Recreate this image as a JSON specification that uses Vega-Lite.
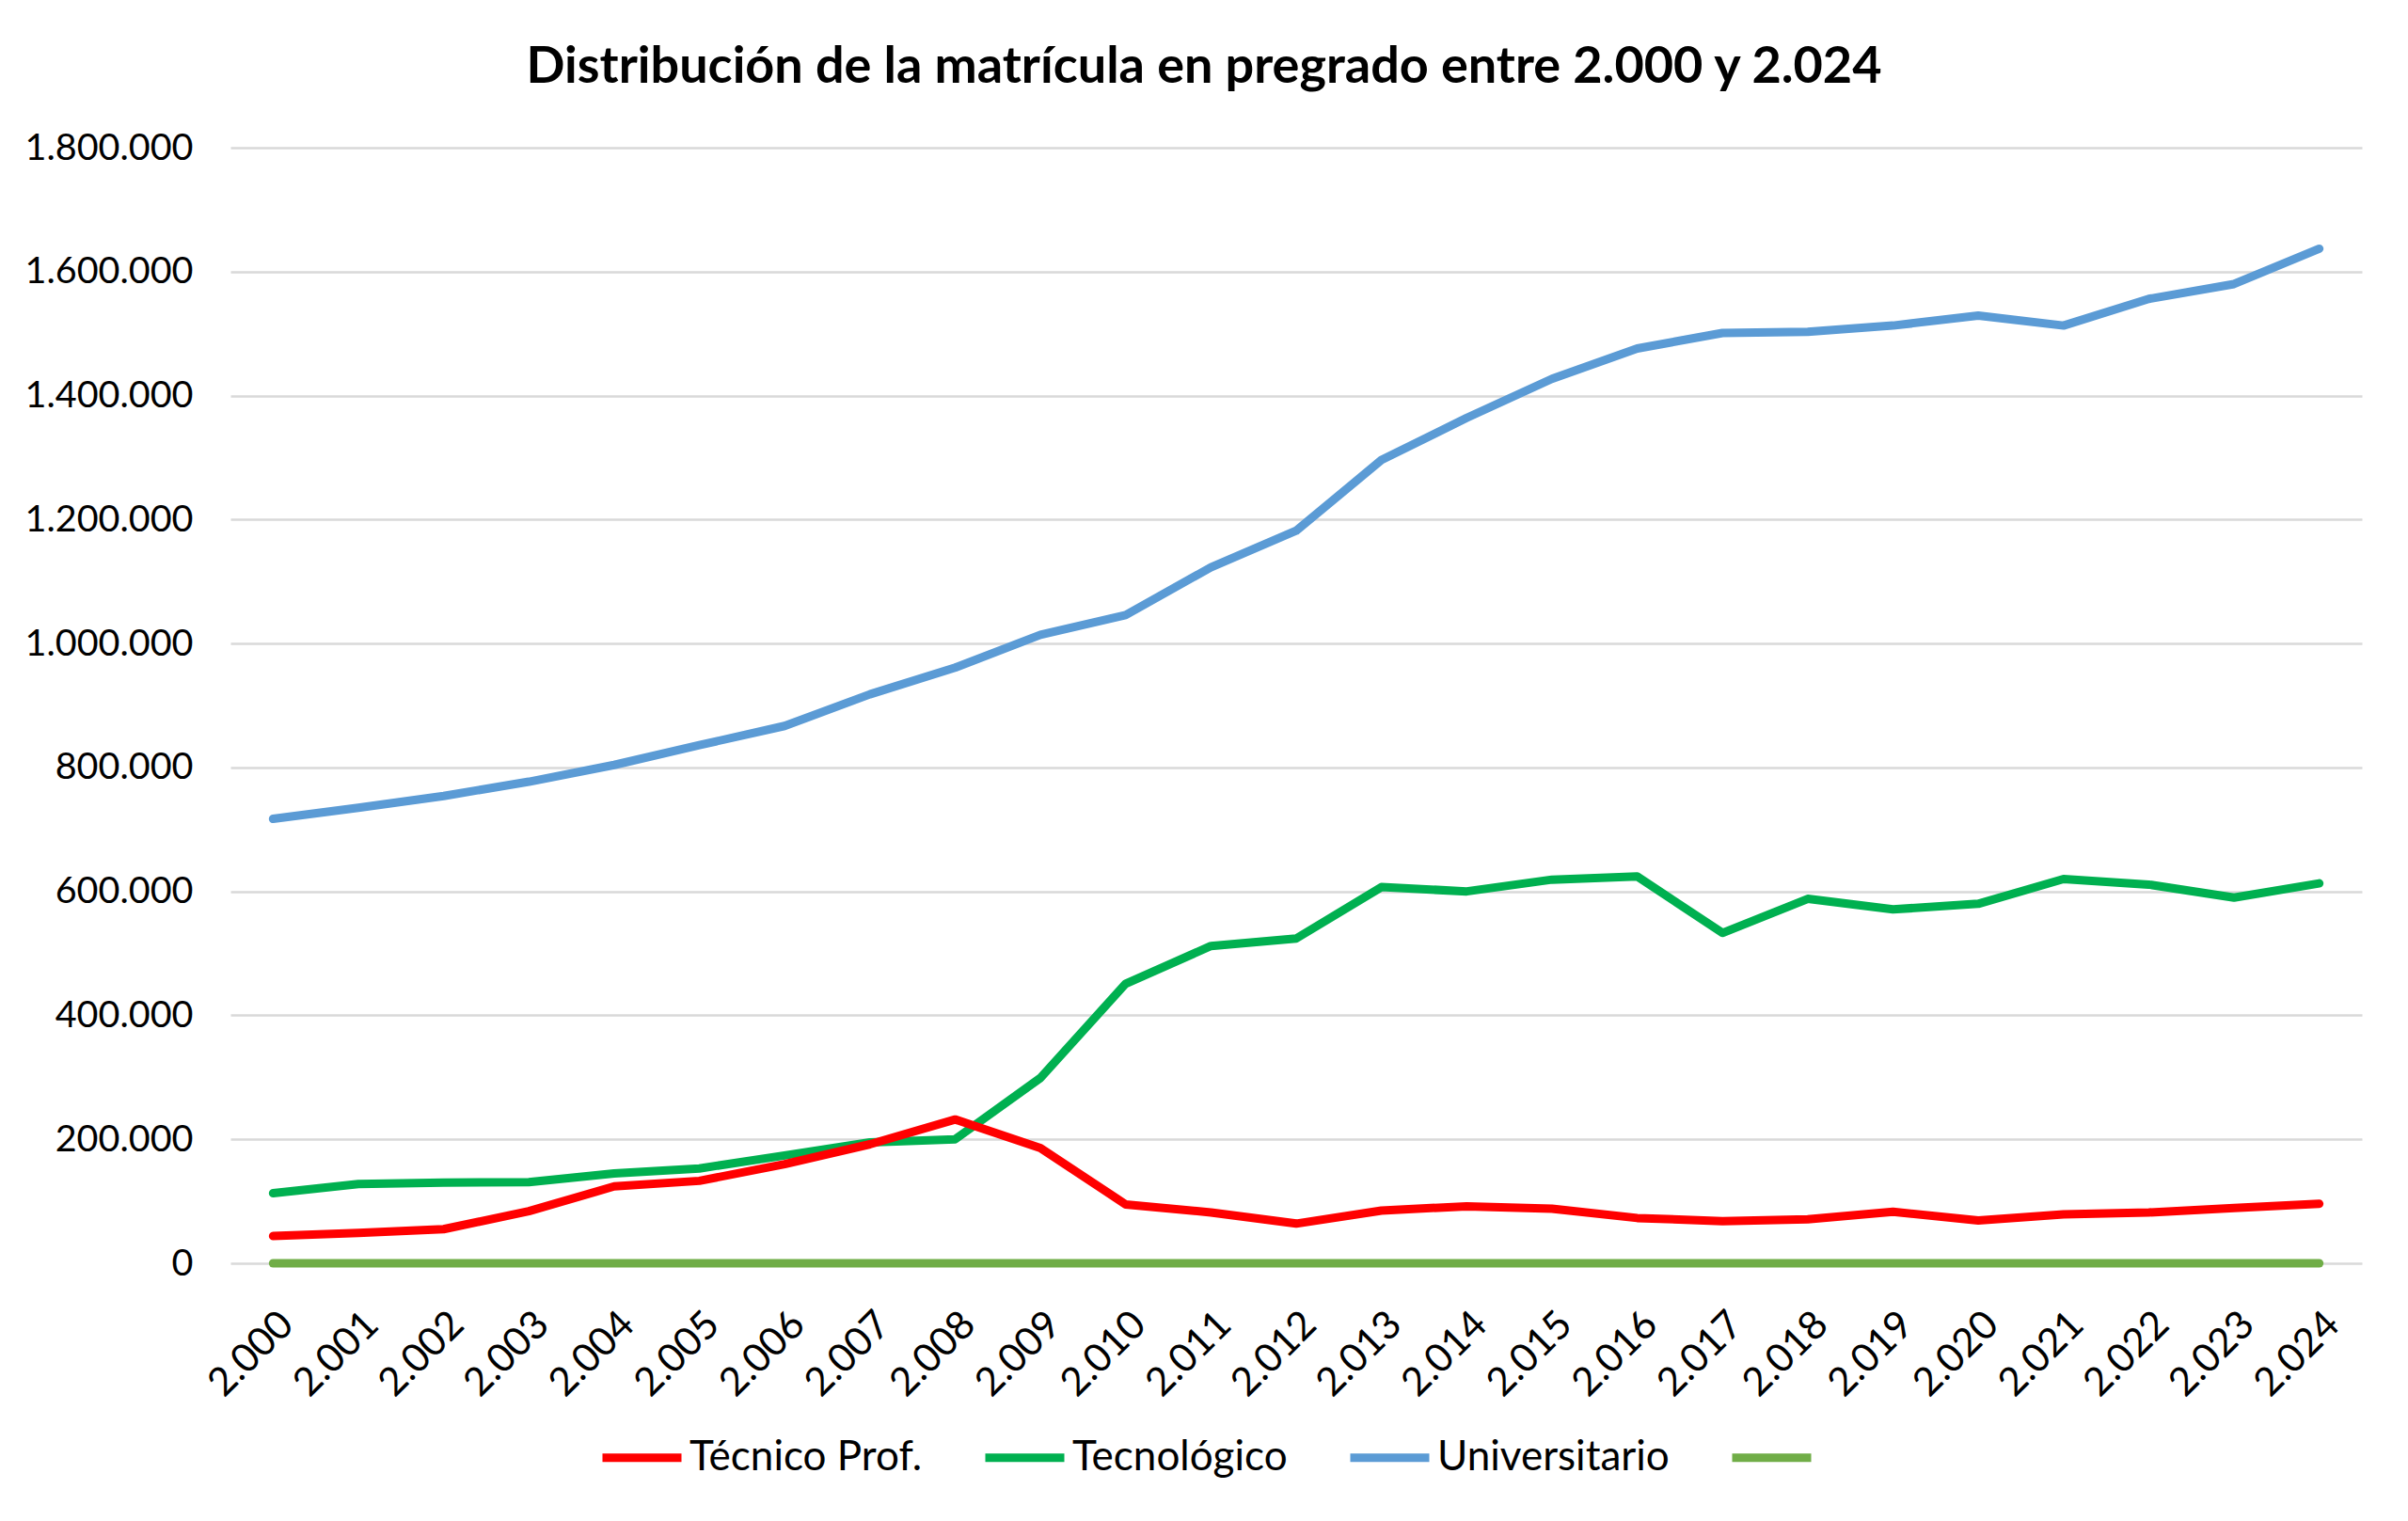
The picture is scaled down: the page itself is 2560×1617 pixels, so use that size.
{
  "$schema": "https://vega.github.io/schema/vega-lite/v6.json",
  "autosize": {"type": "none"},
  "width": 2266,
  "height": 1186,
  "padding": {"left": 245, "top": 157, "right": 49, "bottom": 274},
  "background": "white",
  "title": {
    "text": "Distribución de la matrícula en pregrado entre 2.000 y 2.024",
    "font": "Lato",
    "fontSize": 54,
    "fontWeight": "bold",
    "color": "#000000",
    "anchor": "middle",
    "frame": "group",
    "dx": -98,
    "offset": 38
  },
  "data": {
    "values": [
      {"anio": "2.000", "serie": "Universitario", "valor": 717000},
      {"anio": "2.001", "serie": "Universitario", "valor": 735000},
      {"anio": "2.002", "serie": "Universitario", "valor": 754000},
      {"anio": "2.003", "serie": "Universitario", "valor": 777000},
      {"anio": "2.004", "serie": "Universitario", "valor": 804000},
      {"anio": "2.005", "serie": "Universitario", "valor": 836000},
      {"anio": "2.006", "serie": "Universitario", "valor": 867000},
      {"anio": "2.007", "serie": "Universitario", "valor": 918000},
      {"anio": "2.008", "serie": "Universitario", "valor": 961000},
      {"anio": "2.009", "serie": "Universitario", "valor": 1014000},
      {"anio": "2.010", "serie": "Universitario", "valor": 1046000},
      {"anio": "2.011", "serie": "Universitario", "valor": 1123000},
      {"anio": "2.012", "serie": "Universitario", "valor": 1182000},
      {"anio": "2.013", "serie": "Universitario", "valor": 1296000},
      {"anio": "2.014", "serie": "Universitario", "valor": 1364000},
      {"anio": "2.015", "serie": "Universitario", "valor": 1427000},
      {"anio": "2.016", "serie": "Universitario", "valor": 1476000},
      {"anio": "2.017", "serie": "Universitario", "valor": 1501000},
      {"anio": "2.018", "serie": "Universitario", "valor": 1503000},
      {"anio": "2.019", "serie": "Universitario", "valor": 1513000},
      {"anio": "2.020", "serie": "Universitario", "valor": 1529000},
      {"anio": "2.021", "serie": "Universitario", "valor": 1513000},
      {"anio": "2.022", "serie": "Universitario", "valor": 1556000},
      {"anio": "2.023", "serie": "Universitario", "valor": 1580000},
      {"anio": "2.024", "serie": "Universitario", "valor": 1637000},
      {"anio": "2.000", "serie": "Tecnológico", "valor": 113000},
      {"anio": "2.001", "serie": "Tecnológico", "valor": 128000},
      {"anio": "2.002", "serie": "Tecnológico", "valor": 130000},
      {"anio": "2.003", "serie": "Tecnológico", "valor": 131000},
      {"anio": "2.004", "serie": "Tecnológico", "valor": 145000},
      {"anio": "2.005", "serie": "Tecnológico", "valor": 153000},
      {"anio": "2.006", "serie": "Tecnológico", "valor": 174000},
      {"anio": "2.007", "serie": "Tecnológico", "valor": 195000},
      {"anio": "2.008", "serie": "Tecnológico", "valor": 200000},
      {"anio": "2.009", "serie": "Tecnológico", "valor": 299000},
      {"anio": "2.010", "serie": "Tecnológico", "valor": 451000},
      {"anio": "2.011", "serie": "Tecnológico", "valor": 512000},
      {"anio": "2.012", "serie": "Tecnológico", "valor": 524000},
      {"anio": "2.013", "serie": "Tecnológico", "valor": 607000},
      {"anio": "2.014", "serie": "Tecnológico", "valor": 600000},
      {"anio": "2.015", "serie": "Tecnológico", "valor": 619000},
      {"anio": "2.016", "serie": "Tecnológico", "valor": 624000},
      {"anio": "2.017", "serie": "Tecnológico", "valor": 533000},
      {"anio": "2.018", "serie": "Tecnológico", "valor": 588000},
      {"anio": "2.019", "serie": "Tecnológico", "valor": 571000},
      {"anio": "2.020", "serie": "Tecnológico", "valor": 580000},
      {"anio": "2.021", "serie": "Tecnológico", "valor": 620000},
      {"anio": "2.022", "serie": "Tecnológico", "valor": 611000},
      {"anio": "2.023", "serie": "Tecnológico", "valor": 590000},
      {"anio": "2.024", "serie": "Tecnológico", "valor": 613000},
      {"anio": "2.000", "serie": "Técnico Prof.", "valor": 44000},
      {"anio": "2.001", "serie": "Técnico Prof.", "valor": 49000},
      {"anio": "2.002", "serie": "Técnico Prof.", "valor": 55000},
      {"anio": "2.003", "serie": "Técnico Prof.", "valor": 84000},
      {"anio": "2.004", "serie": "Técnico Prof.", "valor": 124000},
      {"anio": "2.005", "serie": "Técnico Prof.", "valor": 133000},
      {"anio": "2.006", "serie": "Técnico Prof.", "valor": 160000},
      {"anio": "2.007", "serie": "Técnico Prof.", "valor": 192000},
      {"anio": "2.008", "serie": "Técnico Prof.", "valor": 232000},
      {"anio": "2.009", "serie": "Técnico Prof.", "valor": 186000},
      {"anio": "2.010", "serie": "Técnico Prof.", "valor": 95000},
      {"anio": "2.011", "serie": "Técnico Prof.", "valor": 82000},
      {"anio": "2.012", "serie": "Técnico Prof.", "valor": 64000},
      {"anio": "2.013", "serie": "Técnico Prof.", "valor": 85000},
      {"anio": "2.014", "serie": "Técnico Prof.", "valor": 92000},
      {"anio": "2.015", "serie": "Técnico Prof.", "valor": 88000},
      {"anio": "2.016", "serie": "Técnico Prof.", "valor": 73000},
      {"anio": "2.017", "serie": "Técnico Prof.", "valor": 68000},
      {"anio": "2.018", "serie": "Técnico Prof.", "valor": 71000},
      {"anio": "2.019", "serie": "Técnico Prof.", "valor": 83000},
      {"anio": "2.020", "serie": "Técnico Prof.", "valor": 69000},
      {"anio": "2.021", "serie": "Técnico Prof.", "valor": 79000},
      {"anio": "2.022", "serie": "Técnico Prof.", "valor": 82000},
      {"anio": "2.023", "serie": "Técnico Prof.", "valor": 89000},
      {"anio": "2.024", "serie": "Técnico Prof.", "valor": 96000},
      {"anio": "2.000", "serie": " ", "valor": 0},
      {"anio": "2.001", "serie": " ", "valor": 0},
      {"anio": "2.002", "serie": " ", "valor": 0},
      {"anio": "2.003", "serie": " ", "valor": 0},
      {"anio": "2.004", "serie": " ", "valor": 0},
      {"anio": "2.005", "serie": " ", "valor": 0},
      {"anio": "2.006", "serie": " ", "valor": 0},
      {"anio": "2.007", "serie": " ", "valor": 0},
      {"anio": "2.008", "serie": " ", "valor": 0},
      {"anio": "2.009", "serie": " ", "valor": 0},
      {"anio": "2.010", "serie": " ", "valor": 0},
      {"anio": "2.011", "serie": " ", "valor": 0},
      {"anio": "2.012", "serie": " ", "valor": 0},
      {"anio": "2.013", "serie": " ", "valor": 0},
      {"anio": "2.014", "serie": " ", "valor": 0},
      {"anio": "2.015", "serie": " ", "valor": 0},
      {"anio": "2.016", "serie": " ", "valor": 0},
      {"anio": "2.017", "serie": " ", "valor": 0},
      {"anio": "2.018", "serie": " ", "valor": 0},
      {"anio": "2.019", "serie": " ", "valor": 0},
      {"anio": "2.020", "serie": " ", "valor": 0},
      {"anio": "2.021", "serie": " ", "valor": 0},
      {"anio": "2.022", "serie": " ", "valor": 0},
      {"anio": "2.023", "serie": " ", "valor": 0},
      {"anio": "2.024", "serie": " ", "valor": 0}
    ]
  },
  "mark": {"type": "line", "strokeWidth": 9, "strokeJoin": "round", "strokeCap": "round"},
  "encoding": {
    "x": {
      "field": "anio",
      "type": "ordinal",
      "scale": {"type": "point", "padding": 0.5},
      "axis": {
        "title": null,
        "labelAngle": -45,
        "labelPadding": 44,
        "labelFontSize": 42,
        "ticks": false,
        "domain": false,
        "grid": false
      }
    },
    "y": {
      "field": "valor",
      "type": "quantitative",
      "scale": {"domain": [0, 1800000]},
      "axis": {
        "title": null,
        "values": [0, 200000, 400000, 600000, 800000, 1000000, 1200000, 1400000, 1600000, 1800000],
        "format": ",d",
        "ticks": false,
        "domain": false,
        "labelFontSize": 39.5,
        "labelPadding": 40
      }
    },
    "color": {
      "field": "serie",
      "type": "nominal",
      "scale": {
        "domain": ["Técnico Prof.", "Tecnológico", "Universitario", " "],
        "range": ["#FF0000", "#00B050", "#5B9BD5", "#70AD47"]
      },
      "legend": {
        "title": null,
        "orient": "none",
        "direction": "horizontal",
        "legendX": 391,
        "legendY": 1346,
        "symbolType": "stroke",
        "symbolSize": 7056,
        "symbolStrokeWidth": 9,
        "labelOffset": 4,
        "labelLimit": 0,
        "columnPadding": 48,
        "labelFont": "Lato",
        "labelFontSize": 44,
        "labelColor": "#000000"
      }
    }
  },
  "config": {
    "locale": {
      "number": {"decimal": ",", "thousands": ".", "grouping": [3], "currency": ["$", ""]}
    },
    "view": {"stroke": null},
    "axis": {
      "labelFont": "Lato",
      "labelColor": "#000000",
      "gridColor": "#D9D9D9",
      "gridWidth": 2.5
    }
  }
}
